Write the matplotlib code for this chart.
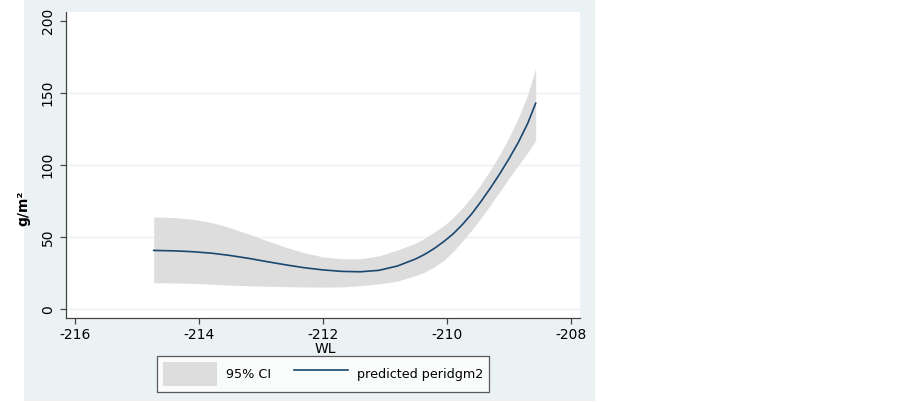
import matplotlib
matplotlib.use("Agg")
import matplotlib.pyplot as plt
from matplotlib.patches import Rectangle, Patch
from matplotlib.lines import Line2D

# ---- data ----
wl = [-214.73, -214.4, -214.1, -213.8, -213.5, -213.2, -212.9, -212.6, -212.3, -212.0,
      -211.7, -211.4, -211.1, -210.8, -210.5, -210.35, -210.2, -210.05, -209.9, -209.75,
      -209.6, -209.45, -209.3, -209.15, -209.0, -208.85, -208.7, -208.57]
fit = [40.8, 40.5, 39.9, 38.9, 37.3, 35.3, 33.0, 30.8, 28.8, 27.3,
       26.3, 26.0, 27.0, 30.0, 35.0, 38.3, 42.3, 47.0, 52.3, 58.8,
       66.2, 74.8, 84.0, 93.8, 104.3, 115.6, 128.6, 142.7]
ci_lo = [18.4, 18.3, 18.0, 17.4, 16.8, 16.3, 16.0, 15.7, 15.5, 15.4,
         15.5, 16.3, 17.6, 19.6, 23.5, 26.0, 29.5, 34.0, 40.0, 47.3,
         55.0, 63.3, 72.2, 81.5, 90.8, 99.8, 108.5, 117.0]
ci_hi = [64.0, 63.5, 62.3, 60.2, 56.5, 52.2, 47.5, 43.0, 39.2, 36.3,
         35.0, 35.0, 37.0, 41.0, 46.0, 49.5, 53.7, 58.0, 63.5, 70.3,
         78.0, 86.8, 96.5, 107.2, 119.0, 132.5, 148.5, 167.0]
x_ticks = [-216, -214, -212, -210, -208]
y_ticks = [0, 50, 100, 150, 200]
legend_labels = ["95% CI", "predicted peridgm2"]

# ---- style ----
W, H = 903, 403
bg = "#eaf2f3"
line_col = "#1a476f"
fill_col = "#dddddd"
axis_col = "#444444"

plt.rcParams['font.family'] = ['DejaVu Sans']
fig = plt.figure(figsize=(W / 100, H / 100), dpi=100)
fig.patch.set_facecolor("white")

# outer graph panel
fig.patches.append(Rectangle((24 / W, 1 - 401 / H), (595 - 24) / W, 401 / H,
                             transform=fig.transFigure, facecolor=bg,
                             edgecolor="none", zorder=-10))

ax = fig.add_axes([66 / W, 1 - 318 / H, (580 - 66) / W, (318 - 12) / H])
ax.set_zorder(1)
ax.set_facecolor("white")

ax.fill_between(wl, ci_lo, ci_hi, color=fill_col, linewidth=0, zorder=2)
ax.plot(wl, fit, color=line_col, linewidth=1.2, zorder=3,
        solid_joinstyle="round")

ax.set_xlim(-216.145, -207.855)
ax.set_ylim(-6.0, 205.9)
ax.set_xticks(x_ticks)
ax.set_yticks(y_ticks)
ax.set_xticklabels([str(v) for v in x_ticks])
ax.set_yticklabels([str(v) for v in y_ticks], rotation=90, va="center")

for v in [0, 50, 100, 150]:
    ax.axhline(v, color=bg, linewidth=1.0, zorder=1)

for s in ["top", "right"]:
    ax.spines[s].set_visible(False)
for s in ["left", "bottom"]:
    ax.spines[s].set_color(axis_col)
    ax.spines[s].set_linewidth(0.9)

ax.tick_params(axis="both", colors=axis_col, labelcolor="black", labelsize=10,
               length=4, width=0.9)
ax.tick_params(axis="x", pad=3.5)
ax.tick_params(axis="y", pad=4)

fig.text(325 / W, 1 - 349 / H, "WL", ha="center", va="center", fontsize=10)
fig.text(23 / W, 1 - 208 / H, "g/m\u00b2", ha="center", va="center",
         fontsize=10, fontweight="bold", rotation=90)

handles = [Patch(facecolor=fill_col, edgecolor="none"),
           Line2D([0], [0], color=line_col, linewidth=1.2)]
leg = fig.legend(handles, legend_labels, loc="center",
                 bbox_to_anchor=(323 / W, 1 - 374 / H), ncol=2,
                 frameon=True, fancybox=False, fontsize=9.2,
                 handlelength=4.2, handleheight=2.6, handletextpad=0.7,
                 columnspacing=1.8, borderpad=0.45, borderaxespad=0)
leg.get_frame().set_edgecolor("#333333")
leg.get_frame().set_linewidth(0.9)
leg.get_frame().set_facecolor("white")

fig.savefig("out.png", dpi=100)
